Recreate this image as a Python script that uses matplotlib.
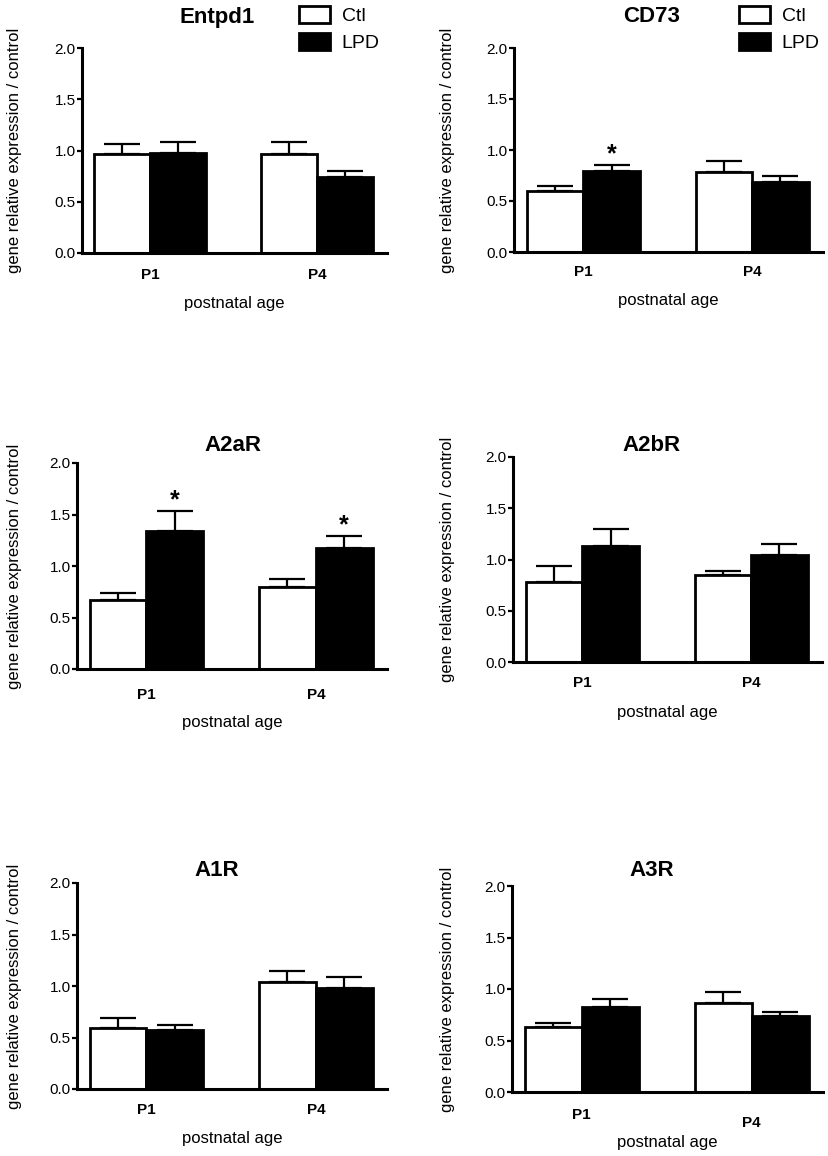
import matplotlib
matplotlib.use("Agg")
import matplotlib.pyplot as plt
import matplotlib.transforms as mtransforms
from matplotlib.patches import Patch
import numpy as np

plt.rcParams['font.family'] = ['Liberation Sans', 'DejaVu Sans']

# ---------------- data ----------------
genes = ["Entpd1", "CD73", "A2aR", "A2bR", "A1R", "A3R"]
ages = ["P1", "P4"]
groups = ["Ctl", "LPD"]

ctl_mean = [[0.97, 0.97], [0.60, 0.78], [0.67, 0.80], [0.78, 0.85], [0.59, 1.04], [0.63, 0.86]]
ctl_err = [[0.09, 0.11], [0.05, 0.11], [0.07, 0.07], [0.16, 0.04], [0.10, 0.11], [0.04, 0.11]]
lpd_mean = [[0.98, 0.74], [0.79, 0.69], [1.34, 1.17], [1.13, 1.04], [0.57, 0.98], [0.83, 0.74]]
lpd_err = [[0.10, 0.06], [0.06, 0.06], [0.19, 0.12], [0.17, 0.11], [0.05, 0.11], [0.07, 0.04]]
lpd_sig = [[False, False], [True, False], [True, True], [False, False], [False, False], [False, False]]

yticks = [0.0, 0.5, 1.0, 1.5, 2.0]
ylabel = "gene relative expression / control"
xlabel = "postnatal age"

# ---------------- layout (pixels) ----------------
W, H = 829, 1156
# left, right, top, bottom of each axes
boxes = [(82, 387, 48, 253), (514, 823, 48, 252),
         (77, 387, 463, 669), (513, 822, 457, 662),
         (77, 387, 883, 1089), (512, 823, 886, 1092)]
title_pos = [(217, 17), (652, 17), (233, 445), (652, 445), (217, 870), (652, 870)]
ylab_x = [15, 448, 15, 448, 15, 448]
age_lab_dy = [[22, 22], [20, 20], [26, 26], [21, 21], [21, 21], [23, 31]]
xlab_y = [303, 300, 723, 713, 1138, 1142]

fig = plt.figure(figsize=(W / 100, H / 100), dpi=100)

def fx(px):
    return px / W

def fy(py):
    return 1 - py / H

bw = 0.335
x = np.arange(len(ages))
lw = 2.2

for i, g in enumerate(genes):
    l, r, t, b = boxes[i]
    ax = fig.add_axes([fx(l), fy(b), (r - l) / W, (b - t) / H])
    ax.set_xlim(-0.41, 1.42)
    ax.set_ylim(0, 2.0)

    cm = np.array(ctl_mean[i]); ce = np.array(ctl_err[i])
    lm = np.array(lpd_mean[i]); le = np.array(lpd_err[i])

    ax.errorbar(x - bw / 2, cm, yerr=[np.zeros_like(ce), ce], fmt='none',
                ecolor='black', elinewidth=1.6, capsize=13, capthick=1.6, zorder=1)
    ax.errorbar(x + bw / 2, lm, yerr=[np.zeros_like(le), le], fmt='none',
                ecolor='black', elinewidth=1.6, capsize=13, capthick=1.6, zorder=1)
    ax.bar(x - bw / 2, cm, width=bw, color='white', edgecolor='black', linewidth=2.0, zorder=2)
    ax.bar(x + bw / 2, lm, width=bw, color='black', edgecolor='black', linewidth=2.0, zorder=2)

    for j in range(len(ages)):
        if lpd_sig[i][j]:
            ax.annotate('*', xy=(x[j] + bw / 2, lm[j] + le[j]), xytext=(0, -1),
                        textcoords='offset points', ha='center', va='bottom',
                        fontsize=18, fontweight='bold')

    for s in ['top', 'right']:
        ax.spines[s].set_visible(False)
    for s in ['left', 'bottom']:
        ax.spines[s].set_linewidth(lw)
    ax.spines['left'].set_bounds(0, 2.0)

    ax.set_yticks(yticks)
    ax.set_yticklabels([f"{v:.1f}" for v in yticks], fontsize=11)
    ax.tick_params(axis='y', direction='out', length=3.5, width=1.6, pad=1)
    ax.set_xticks([])

    trans = mtransforms.blended_transform_factory(ax.transData, fig.transFigure)
    for j, a in enumerate(ages):
        ax.text(x[j], fy(b + age_lab_dy[i][j]), a, transform=trans, ha='center', va='center',
                fontsize=11, fontweight='bold')

    fig.text(fx((l + r) / 2), fy(xlab_y[i]), xlabel, ha='center', va='center', fontsize=12)
    fig.text(fx(ylab_x[i]), fy((t + b) / 2), ylabel, ha='center', va='center',
             rotation=90, fontsize=12)
    fig.text(fx(title_pos[i][0]), fy(title_pos[i][1]), g, ha='center', va='center',
             fontsize=16, fontweight='bold')

    if i < 2:
        handles = [Patch(facecolor='white', edgecolor='black', linewidth=2.0),
                   Patch(facecolor='black', edgecolor='black', linewidth=2.0)]
        lx = 299 if i == 0 else 739
        ax.legend(handles, groups, loc='upper left', bbox_to_anchor=(fx(lx), fy(6)),
                  bbox_transform=fig.transFigure, frameon=False, fontsize=14,
                  borderpad=0, borderaxespad=0, handlelength=1.6, handleheight=0.95,
                  handletextpad=0.6, labelspacing=0.4)

fig.savefig("out.png", dpi=100)
